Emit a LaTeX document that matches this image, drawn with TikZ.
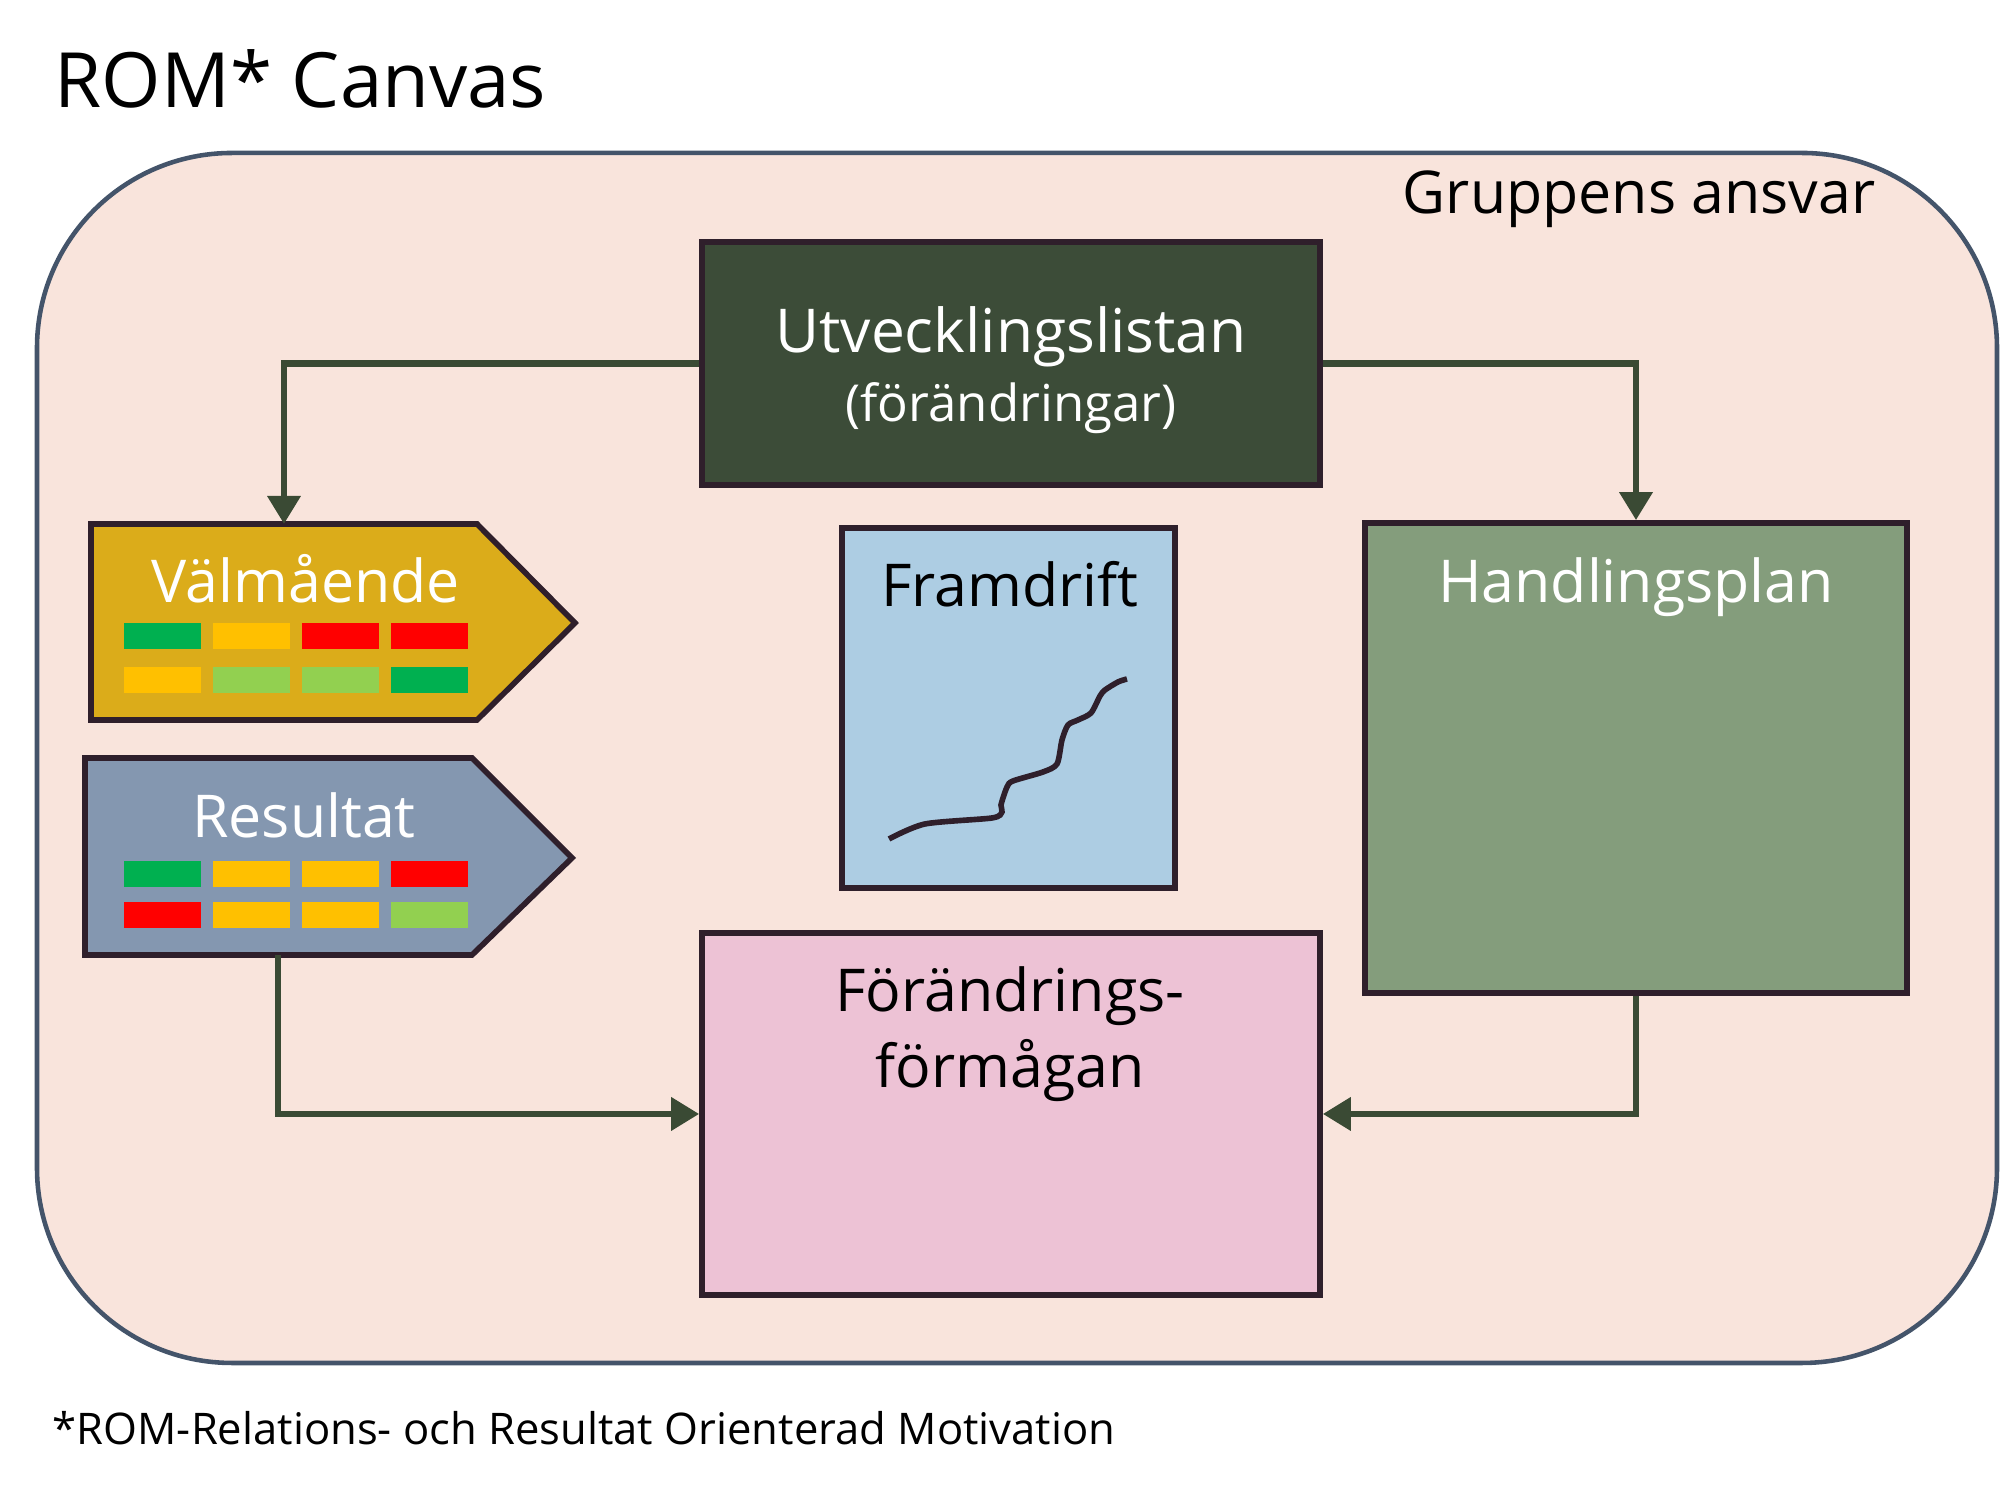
\documentclass[tikz,border=0pt]{standalone}
\usepackage{fontspec}
\setmainfont{Open Sans}
\usetikzlibrary{arrows.meta, positioning, calc}

\definecolor{canvasbg}{HTML}{F9E4DC}
\definecolor{canvasline}{HTML}{44546A}
\definecolor{edgecol}{HTML}{2F1F2B}
\definecolor{conncol}{HTML}{3A4A34}
\definecolor{utvcol}{HTML}{3C4C38}
\definecolor{valmcol}{HTML}{DBAC1A}
\definecolor{rescol}{HTML}{8497B0}
\definecolor{framcol}{HTML}{ADCDE3}
\definecolor{handcol}{HTML}{849D7C}
\definecolor{forcol}{HTML}{EDC2D5}
\definecolor{cgreen}{HTML}{00B050}
\definecolor{camber}{HTML}{FFC000}
\definecolor{cred}{HTML}{FF0000}
\definecolor{clight}{HTML}{92D050}

\begin{document}
\begin{tikzpicture}[
    box/.style={draw=edgecol, line width=1.6pt, inner sep=0pt},
    lbl/.style={font=\fontsize{16.8}{21.6}\selectfont, anchor=base, inner sep=0pt},
    cell/.style={minimum width=0.77cm, minimum height=0.26cm, inner sep=0pt,
                 anchor=north west},
    conn/.style={draw=conncol, line width=1.9pt,
                 -{Triangle[length=0.28cm, width=0.32cm]}},
    >=Stealth
  ]
  \useasboundingbox (0,0) rectangle (20.02,14.85);

  % canvas
  \draw[fill=canvasbg, draw=canvasline, line width=1.3pt, rounded corners=1.95cm]
    (0.37,1.22) rectangle (19.97,13.32);
  \node[anchor=base west, inner sep=0pt, font=\fontsize{21.7}{26}\selectfont]
    (title) at (0.54,13.77) {ROM* Canvas};
  \node[lbl, anchor=base east] (ansvar) at (18.76,12.71) {Gruppens ansvar};

  % boxes
  \node[box, fill=utvcol, minimum width=6.18cm, minimum height=2.43cm]
    (utv) at (10.11,11.215) {};
  \node[lbl, text=white, font=\fontsize{17.2}{21}\selectfont]
    (utvtxt) at (10.11,11.32) {Utvecklingslistan};
  \node[lbl, text=white, font=\fontsize{14.5}{17}\selectfont]
    (utvsub) at (10.11,10.63) {(förändringar)};

  \node[box, fill=framcol, minimum width=3.33cm, minimum height=3.60cm]
    (fram) at (10.085,7.77) {};
  \node[lbl] (framtxt) at (10.10,8.78) {Framdrift};

  \node[box, fill=handcol, minimum width=5.42cm, minimum height=4.70cm]
    (hand) at (16.36,7.27) {};
  \node[lbl, text=white] (handtxt) at (16.36,8.82) {Handlingsplan};

  \node[box, fill=forcol, minimum width=6.18cm, minimum height=3.62cm]
    (form) at (10.11,3.71) {};
  \node[lbl] (formtxt) at (10.10,4.73) {Förändrings-};
  \node[lbl] (formtxt2) at (10.10,3.97) {förmågan};

  % Välmående
  \draw[fill=valmcol, draw=edgecol, line width=1.6pt]
    (0.91,9.61) -- (4.77,9.61) -- (5.75,8.62) -- (4.77,7.65) -- (0.91,7.65) -- cycle;
  \coordinate (valm) at (2.84,9.61);
  \node[lbl, text=white] (valmtxt) at (3.06,8.82) {Välmående};
  \foreach \x/\c in {0/cgreen, 1/camber, 2/cred, 3/cred} {
    \node[cell, fill=\c] (va\x) at ({1.23+\x*0.89}, 8.63) {};
  }
  \foreach \x/\c in {0/camber, 1/clight, 2/clight, 3/cgreen} {
    \node[cell, fill=\c] (vb\x) at ({1.23+\x*0.89}, 8.19) {};
  }

  % Resultat
  \draw[fill=rescol, draw=edgecol, line width=1.6pt]
    (0.85,7.27) -- (4.72,7.27) -- (5.72,6.27) -- (4.72,5.30) -- (0.85,5.30) -- cycle;
  \coordinate (res) at (2.78,5.30);
  \node[lbl, text=white] (restxt) at (3.04,6.47) {Resultat};
  \foreach \x/\c in {0/cgreen, 1/camber, 2/camber, 3/cred} {
    \node[cell, fill=\c] (ra\x) at ({1.23+\x*0.89}, 6.25) {};
  }
  \foreach \x/\c in {0/cred, 1/camber, 2/camber, 3/clight} {
    \node[cell, fill=\c] (rb\x) at ({1.23+\x*0.89}, 5.84) {};
  }

  % progress curve
  \draw[edgecol, line width=1.6pt] plot[smooth, tension=0.45] coordinates {
    (8.89,6.46) (9.25,6.61) (9.92,6.67) (10.02,6.73) (10.01,6.80) (10.07,6.98)
    (10.13,7.04) (10.43,7.13) (10.57,7.21) (10.62,7.45) (10.68,7.60)
    (10.78,7.65) (10.91,7.72) (11.00,7.89) (11.05,7.95) (11.18,8.03) (11.27,8.06)};

  % connectors
  \draw[conn] (utv.west) -| (valm);
  \draw[conn] (utv.east) -| (hand.north);
  \draw[conn] (res) |- (form.west);
  \draw[conn] (hand.south) |- (form.east);

  \node[anchor=base west, inner sep=0pt, font=\fontsize{12.4}{15}\selectfont]
    (fotnot) at (0.52,0.40) {*ROM-Relations- och Resultat Orienterad Motivation};
\end{tikzpicture}
\end{document}
